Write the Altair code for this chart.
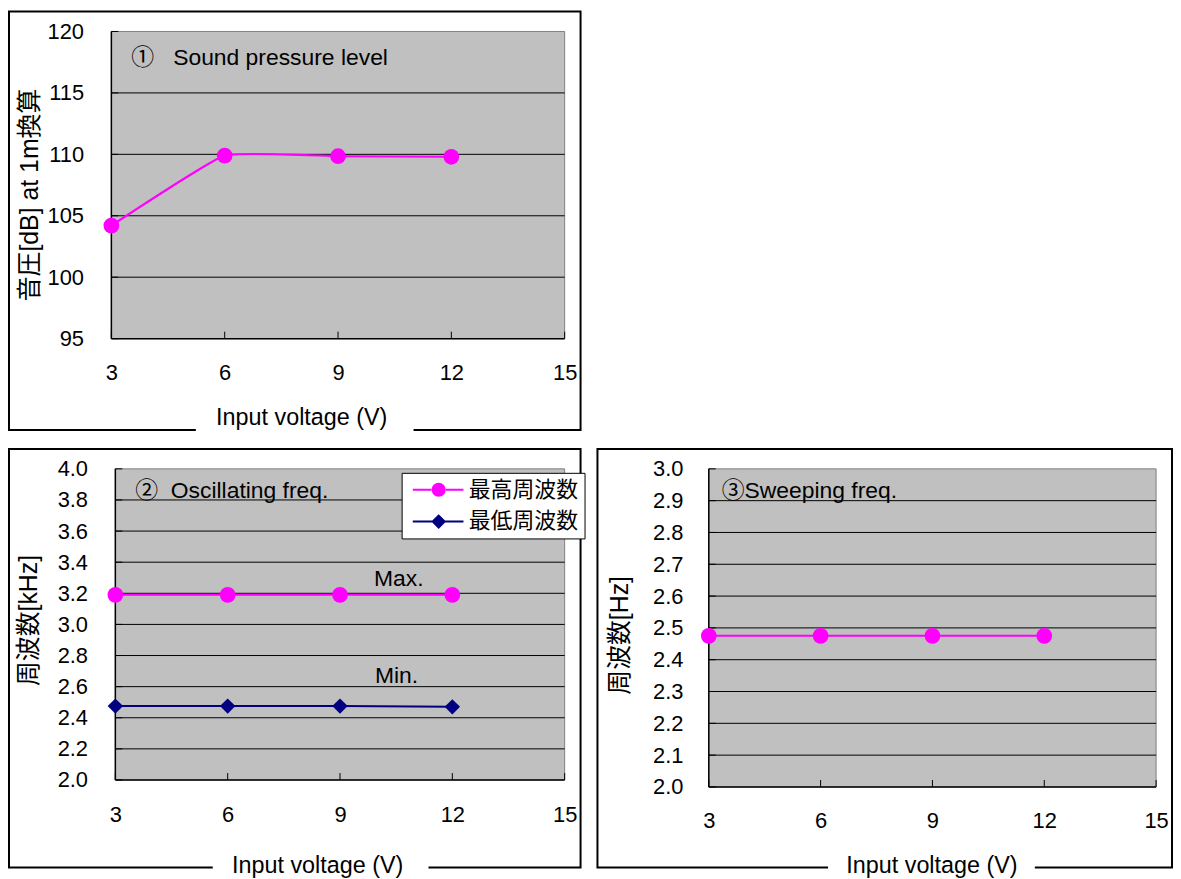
import altair as alt
import pandas as pd

LATIN = "Liberation Sans, Noto Sans CJK JP"
PINK = "#FF00FF"
NAVY = "#000080"
PLOT_BG = "#C0C0C0"

# ---------------- data ----------------
voltage = [3, 6, 9, 12]
spl_db = [104.2, 109.9, 109.85, 109.8]
osc_max_khz = [3.19, 3.19, 3.19, 3.19]
osc_min_khz = [2.475, 2.475, 2.475, 2.47]
sweep_hz = [2.475, 2.475, 2.475, 2.475]
series_names = ["最高周波数", "最低周波数"]

x_ticks = [3, 6, 9, 12, 15]
y1_ticks = [95, 100, 105, 110, 115, 120]
y2_ticks = [2.0, 2.2, 2.4, 2.6, 2.8, 3.0, 3.2, 3.4, 3.6, 3.8, 4.0]
y3_ticks = [2.0, 2.1, 2.2, 2.3, 2.4, 2.5, 2.6, 2.7, 2.8, 2.9, 3.0]

x_title = "Input voltage (V)"
y1_title = "音圧[dB] at 1m換算"
y2_title = "周波数[kHz]"
y3_title = "周波数[Hz]"
cap1 = "①\u00a0\u00a0\u00a0Sound pressure level"
cap2 = "②\u00a0\u00a0Oscillating freq."
cap3 = "③Sweeping freq."
max_label = "Max."
min_label = "Min."

# ---------------- layout (pixels inside each framed panel) ----------------
L1 = dict(W=575, H=421, plot=(103, 559, 20, 329), ylab=75, xlab=363.5,
          xt=(294, 408), yt=(21, 184), cap=(123, 47), gap=(188, 407))
L2 = dict(W=575, H=421, plot=(107, 559, 20, 333), ylab=79, xlab=368,
          xt=(310, 419), yt=(20, 172), cap=(127, 42), gap=(205, 422))
L3 = dict(W=578, H=421, plot=(112, 562, 20, 340), ylab=86, xlab=374,
          xt=(336, 419), yt=(22, 187), cap=(125, 42), gap=(232, 440))

one = pd.DataFrame({"k": [0]})


def make_panel(L, y_ticks, yfmt, ytitle, caption, content):
    W, H = L["W"], L["H"]
    pl, pr, pt, pb = L["plot"]
    x0, x1 = x_ticks[0], x_ticks[-1]
    y0, y1 = y_ticks[0], y_ticks[-1]
    kx = (pr - pl) / (x1 - x0)
    ky = (pb - pt) / (y1 - y0)
    xs = alt.Scale(domain=[x0 - pl / kx, x1 + (W - pr) / kx], nice=False, zero=False)
    ys = alt.Scale(domain=[y0 - (H - pb) / ky, y1 + pt / ky], nice=False, zero=False)
    xa = alt.Axis(values=x_ticks, format="d", domain=False, ticks=False, tickSize=0, grid=False,
                  labelPadding=0, labelBaseline="middle", labelAlign="center", labelFlush=False,
                  labelOverlap=False, offset=L["xlab"] - H, title=x_title,
                  titleX=L["xt"][0], titleY=L["xt"][1] - L["xlab"], titleAlign="center",
                  titleBaseline="middle", titleAngle=0, titleFontSize=23.5, zindex=1)
    ya = alt.Axis(values=y_ticks, format=yfmt, domain=False, ticks=False, tickSize=0, grid=False,
                  labelPadding=0, labelAlign="right", labelBaseline="middle", labelFlush=False,
                  labelOverlap=False, offset=-L["ylab"], title=ytitle,
                  titleX=L["yt"][0] - L["ylab"], titleY=L["yt"][1], titleAlign="center",
                  titleBaseline="middle", titleAngle=270, titleFontSize=25, zindex=1)

    def X(f):
        return alt.X(f, type="quantitative", scale=xs, axis=xa)

    def Y(f):
        return alt.Y(f, type="quantitative", scale=ys, axis=ya)

    def XD(v):
        return alt.X(datum=v, type="quantitative", scale=xs, axis=xa)

    def YD(v):
        return alt.Y(datum=v, type="quantitative", scale=ys, axis=ya)

    box = pd.DataFrame({"x": [x0], "x2": [x1], "y": [y0], "y2": [y1]})
    ygrid = pd.DataFrame({"y": y_ticks, "x": x0, "x2": x1})
    xgrid = pd.DataFrame({"x": x_ticks, "y": y0})

    bg = alt.Chart(box).mark_rect(fill=PLOT_BG, stroke="#808080", strokeWidth=1).encode(
        x=X("x"), x2="x2", y=Y("y"), y2="y2")
    grid = alt.Chart(ygrid).transform_filter(
        (alt.datum.y > y0) & (alt.datum.y < y1)).mark_rule(color="black", strokeWidth=1).encode(
        x=X("x"), x2="x2", y=Y("y"))
    ytk = alt.Chart(ygrid).mark_rule(color="black", strokeWidth=1, x2Offset=7).encode(
        x=X("x"), x2=alt.X2("x"), y=Y("y"))
    xtk = alt.Chart(xgrid).mark_rule(color="black", strokeWidth=1, y2Offset=-7).encode(
        x=X("x"), y=Y("y"), y2=alt.Y2("y"))
    axl = alt.Chart(box).mark_rule(color="black", strokeWidth=1.5).encode(
        x=X("x"), y=Y("y"), y2="y2")
    axb = alt.Chart(box).mark_rule(color="black", strokeWidth=1.5).encode(
        x=X("x"), x2="x2", y=Y("y"))
    cap = alt.Chart(one).mark_text(align="left", baseline="middle", font=LATIN, fontSize=23,
                                   color="black").encode(
        x=alt.value(L["cap"][0]), y=alt.value(L["cap"][1]), text=alt.value(caption))
    frame = alt.Chart(one).mark_rect(fill="white", fillOpacity=0, stroke="black", strokeWidth=2).encode(
        x=alt.value(0), x2=alt.value(W), y=alt.value(0), y2=alt.value(H))
    gap = alt.Chart(one).mark_rule(color="white", strokeWidth=5).encode(
        x=alt.value(L["gap"][0]), x2=alt.value(L["gap"][1]), y=alt.value(H))

    layers = [bg, grid, ytk, xtk, axl, axb] + content(X, Y, XD, YD) + [cap, frame, gap]
    return alt.layer(*layers).properties(width=W, height=H)


# ---------------- panel 1 ----------------
d1 = pd.DataFrame({"voltage": voltage, "value": spl_db})


def content1(X, Y, XD, YD):
    line = alt.Chart(d1).mark_line(color=PINK, strokeWidth=2, interpolate="cardinal",
                                   tension=0.65).encode(x=X("voltage"), y=Y("value"))
    pts = alt.Chart(d1).mark_circle(color=PINK, size=250, opacity=1).encode(
        x=X("voltage"), y=Y("value"))
    return [line, pts]


# ---------------- panel 2 ----------------
d2max = pd.DataFrame({"voltage": voltage, "value": osc_max_khz, "series": series_names[0]})
d2min = pd.DataFrame({"voltage": voltage, "value": osc_min_khz, "series": series_names[1]})
d2 = pd.concat([d2max, d2min], ignore_index=True)

PATH_CIRCLE = ("M-0.66,-0.12H1.55V0.12H-0.66Z M3.08,-0.12H5.17V0.12H3.08Z "
               "M1.515,0A0.8,0.8 0 1,0 3.115,0A0.8,0.8 0 1,0 1.515,0Z")
PATH_DIAMOND = ("M-0.66,-0.12H1.6V0.12H-0.66Z M3.03,-0.12H5.17V0.12H3.03Z "
                "M2.315,-0.85L3.165,0L2.315,0.85L1.465,0Z")

# legend is placed relative to the whole concatenated chart
leg = alt.Legend(orient="none", legendX=395, legendY=464, title=None, direction="vertical",
                 fillColor="white", strokeColor="black", padding=6, symbolSize=306,
                 symbolStrokeWidth=0, symbolOpacity=1, labelOffset=39.5, rowPadding=10,
                 labelFont=LATIN, labelFontSize=22, labelColor="black")


def content2(X, Y, XD, YD):
    lmax = alt.Chart(d2max).mark_line(color=PINK, strokeWidth=2).encode(x=X("voltage"), y=Y("value"))
    lmin = alt.Chart(d2min).mark_line(color=NAVY, strokeWidth=2).encode(x=X("voltage"), y=Y("value"))
    pmax = alt.Chart(d2max).mark_point(shape="circle", filled=True, color=PINK, size=250,
                                       opacity=1).encode(x=X("voltage"), y=Y("value"))
    pmin = alt.Chart(d2min).mark_point(shape="diamond", filled=True, color=NAVY, size=240,
                                       opacity=1).encode(x=X("voltage"), y=Y("value"))
    legsrc = alt.Chart(d2).mark_point(filled=True, size=0, opacity=1).encode(
        x=X("voltage"), y=Y("value"),
        color=alt.Color("series:N", scale=alt.Scale(domain=series_names, range=[PINK, NAVY]), legend=leg),
        shape=alt.Shape("series:N", scale=alt.Scale(domain=series_names, range=[PATH_CIRCLE, PATH_DIAMOND]),
                        legend=leg))
    tmax = alt.Chart(one).mark_text(font=LATIN, fontSize=23, color="black").encode(
        x=XD(10.57), y=YD(3.29), text=alt.value(max_label))
    tmin = alt.Chart(one).mark_text(font=LATIN, fontSize=23, color="black").encode(
        x=XD(10.51), y=YD(2.665), text=alt.value(min_label))
    return [lmax, lmin, pmax, pmin, legsrc, tmax, tmin]


# ---------------- panel 3 ----------------
d3 = pd.DataFrame({"voltage": voltage, "value": sweep_hz})


def content3(X, Y, XD, YD):
    line = alt.Chart(d3).mark_line(color=PINK, strokeWidth=2).encode(x=X("voltage"), y=Y("value"))
    pts = alt.Chart(d3).mark_circle(color=PINK, size=250, opacity=1).encode(
        x=X("voltage"), y=Y("value"))
    return [line, pts]


p1 = make_panel(L1, y1_ticks, "d", y1_title, cap1, content1)
p2 = make_panel(L2, y2_ticks, ".1f", y2_title, cap2, content2)
p3 = make_panel(L3, y3_ticks, ".1f", y3_title, cap3, content3)

chart = alt.vconcat(
    p1,
    alt.hconcat(p2, p3, spacing=17, bounds="flush"),
    spacing=19, bounds="flush",
).properties(padding=0, background="white").configure_view(strokeWidth=0).configure_axis(
    labelFont=LATIN, labelFontSize=22, labelColor="black",
    titleFont=LATIN, titleColor="black", titleFontWeight="normal",
)

chart.save("out.html", embed_options={"renderer": "svg", "actions": False})
